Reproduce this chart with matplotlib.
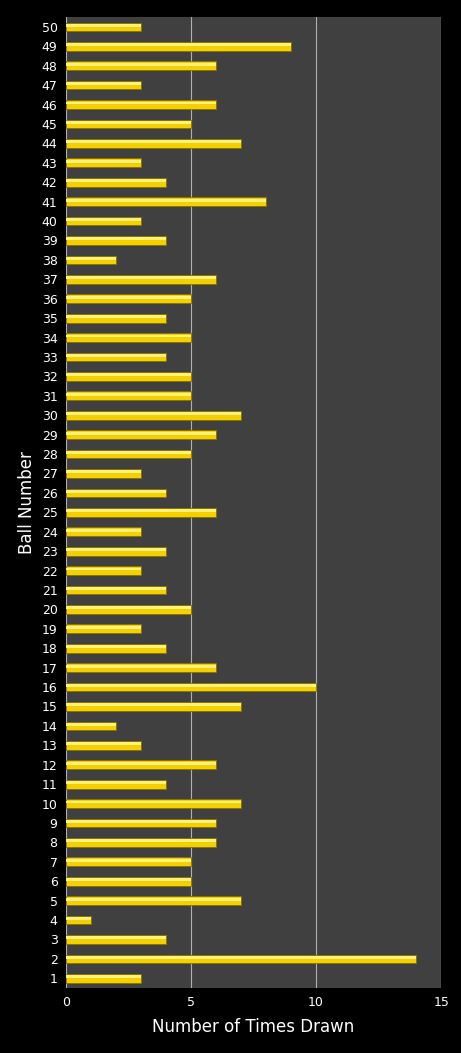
import matplotlib.pyplot as plt
import numpy as np

# ---- Data ----
balls = list(range(1, 51))
times_drawn = [3, 14, 4, 1, 7, 5, 5, 6, 6, 7,
               4, 6, 3, 2, 7, 10, 6, 4, 3, 5,
               4, 3, 4, 3, 6, 4, 3, 5, 6, 7,
               5, 5, 4, 5, 4, 5, 6, 2, 4, 3,
               8, 4, 3, 7, 5, 6, 3, 6, 9, 3]
x_ticks = [0, 5, 10, 15]

# ---- Plot ----
fig = plt.figure(figsize=(4.61, 10.53), dpi=100, facecolor="black")
ax = fig.add_axes([0.143, 0.0617, 0.814, 0.922])
ax.set_facecolor("#404040")

y = np.array(balls)
ax.barh(y, times_drawn, height=0.45, color="#f5d000",
        edgecolor="#8a7000", linewidth=0.6, zorder=3)
# lighter highlight on top half of each bar
ax.barh(y + 0.08, times_drawn, height=0.15, color="#fff27a",
        linewidth=0, zorder=4)

ax.set_xlim(0, 15)
ax.set_ylim(0.5, 50.5)
ax.set_xticks(x_ticks)
ax.set_yticks(balls)
ax.set_yticklabels([str(b) for b in balls])
ax.xaxis.grid(True, color="#b0b0b0", linewidth=0.8, zorder=0)
ax.set_axisbelow(True)

for s in ax.spines.values():
    s.set_visible(False)
ax.tick_params(colors="white", labelsize=9, length=0, pad=6)

ax.set_xlabel("Number of Times Drawn", color="white", fontsize=12, labelpad=6)
ax.set_ylabel("Ball Number", color="white", fontsize=12, labelpad=4)

plt.savefig("out.png", dpi=100, facecolor="black")
